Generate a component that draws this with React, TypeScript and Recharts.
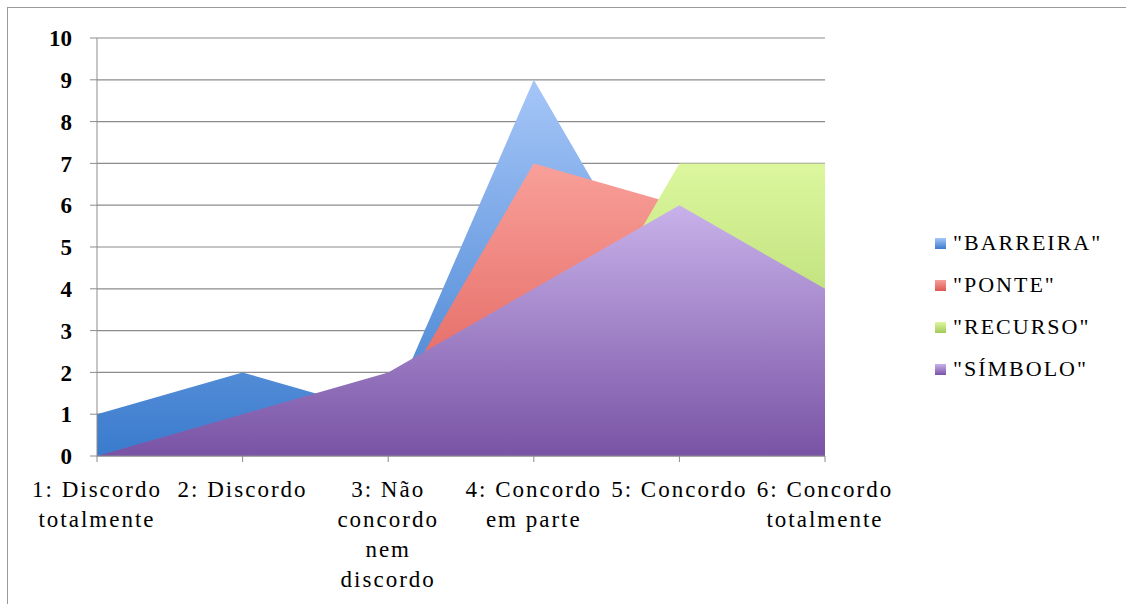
import React from 'react';
import { AreaChart, Area, XAxis, YAxis, CartesianGrid, Legend } from 'recharts';

const categories = [
    '1: Discordo\ntotalmente',
    '2: Discordo',
    '3: Não\nconcordo\nnem\ndiscordo',
    '4: Concordo\nem parte',
    '5: Concordo',
    '6: Concordo\ntotalmente',
];
const barreira = [1, 2, 1, 9, 3, 2];
const ponte = [0, 0, 1, 7, 6, 3];
const recurso = [0, 0, 1, 1, 7, 7];
const simbolo = [0, 1, 2, 4, 6, 4];
const yTicks = [0, 1, 2, 3, 4, 5, 6, 7, 8, 9, 10];

const series = [
    { key: 'barreira', name: '"BARREIRA"', top: '#a6c6f8', bottom: '#3a7bcd' },
    { key: 'ponte', name: '"PONTE"', top: '#f99f99', bottom: '#dd5853' },
    { key: 'recurso', name: '"RECURSO"', top: '#dcf79e', bottom: '#a3c95a' },
    { key: 'simbolo', name: '"SÍMBOLO"', top: '#c8b2ea', bottom: '#7953a5' },
];

const data = categories.map((label, i) => ({
    label,
    barreira: barreira[i],
    ponte: ponte[i],
    recurso: recurso[i],
    simbolo: simbolo[i],
}));

const FONT = '"Liberation Serif", "Times New Roman", serif';
const GRID = '#8c8c8c';

// multi-line category labels, centred under each tick
const CategoryTick = (props: any) => {
    const { x, y, payload } = props;
    const lines = String(payload.value).split('\n');
    return (
        <text x={x} y={y} textAnchor="middle" fontFamily={FONT} fontSize={23} fill="#000" letterSpacing={2}>
            {lines.map((line, i) => (
                <tspan key={i} x={x} y={y + 33 + i * 30}>{line}</tspan>
            ))}
        </text>
    );
};

const LegendBox = () => (
    <div style={{ fontFamily: FONT, fontSize: 22, letterSpacing: 2, color: '#000' }}>
        {series.map((s) => (
            <div key={s.key} style={{ display: 'flex', alignItems: 'center', height: 42 }}>
                <span style={{
                    width: 11, height: 11, marginRight: 7,
                    background: `linear-gradient(${s.top}, ${s.bottom})`,
                }} />
                <span>{s.name}</span>
            </div>
        ))}
    </div>
);

export default function App() {
    return (
        <div style={{
            position: 'absolute', left: 7, top: 7, width: 1118, height: 596,
            borderLeft: '1px solid #9a9a9a', borderTop: '1px solid #9a9a9a', overflow: 'hidden',
        }}>
            <AreaChart width={1110} height={588} data={data} margin={{ top: 30, right: 293, bottom: 10, left: 29 }}>
                <defs>
                    {series.map((s) => (
                        <linearGradient key={s.key} id={`fill-${s.key}`} x1="0" y1="0" x2="0" y2="1">
                            <stop offset="0%" stopColor={s.top} />
                            <stop offset="100%" stopColor={s.bottom} />
                        </linearGradient>
                    ))}
                </defs>
                <CartesianGrid vertical={false} stroke={GRID} strokeWidth={1.2} />
                <XAxis
                    dataKey="label"
                    interval={0}
                    height={130}
                    tickSize={6}
                    stroke={GRID}
                    tick={<CategoryTick />}
                />
                <YAxis
                    domain={[0, 10]}
                    ticks={yTicks}
                    interval={0}
                    width={60}
                    tickSize={7}
                    tickMargin={18}
                    stroke={GRID}
                    tick={{ fontFamily: FONT, fontSize: 23, fontWeight: 'bold', fill: '#000' }}
                />
                {series.map((s) => (
                    <Area
                        key={s.key}
                        type="linear"
                        dataKey={s.key}
                        name={s.name}
                        stroke="none"
                        fill={`url(#fill-${s.key})`}
                        fillOpacity={1}
                        dot={false}
                        activeDot={false}
                        isAnimationActive={false}
                    />
                ))}
                <Legend
                    layout="vertical"
                    align="center"
                    verticalAlign="middle"
                    content={<LegendBox />}
                    wrapperStyle={{ left: 927, top: 214, width: 190 }}
                />
            </AreaChart>
        </div>
    );
}
